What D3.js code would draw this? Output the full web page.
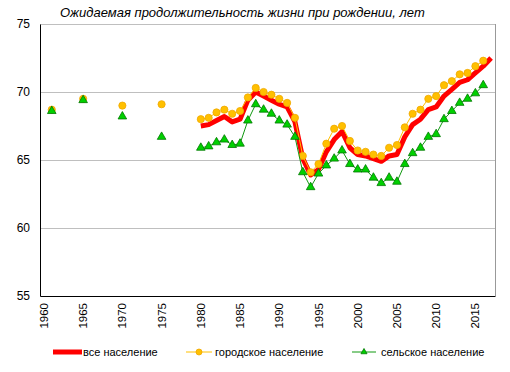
<!DOCTYPE html>
<html>
<head>
<meta charset="utf-8">
<script src="https://cdn.jsdelivr.net/npm/d3@7"></script>
<style>
  body { margin: 0; background: #fff; }
  svg { font-family: "Liberation Sans", Arial, sans-serif; }
</style>
</head>
<body>
<div id="chart"></div>
<script>
const title = "Ожидаемая продолжительность жизни при рождении, лет"
const years = d3.range(1960, 2018)
const yTicks = [55, 60, 65, 70, 75]
const xTicks = d3.range(1960, 2016, 5)
const seriesNames = ["все население", "городское население", "сельское население"]

// values by year, null where missing
const totalData = {
    1980: 67.5, 1981: 67.6, 1982: 67.9, 1983: 68.2, 1984: 67.8, 1985: 68.0, 1986: 69.4, 1987: 70.0,
    1988: 69.7, 1989: 69.4, 1990: 69.1, 1991: 68.9, 1992: 67.8, 1993: 65.1, 1994: 63.9, 1995: 64.3,
    1996: 65.6, 1997: 66.5, 1998: 67.1, 1999: 65.9, 2000: 65.4, 2001: 65.3, 2002: 65.1, 2003: 64.9,
    2004: 65.3, 2005: 65.4, 2006: 66.7, 2007: 67.6, 2008: 68.0, 2009: 68.7, 2010: 68.9, 2011: 69.7,
    2012: 70.2, 2013: 70.7, 2014: 70.9, 2015: 71.4, 2016: 71.9, 2017: 72.5
}
const urbanData = {
    1961: 68.7, 1965: 69.5, 1970: 69.0, 1975: 69.1,
    1980: 68.0, 1981: 68.1, 1982: 68.5, 1983: 68.7, 1984: 68.4, 1985: 68.6, 1986: 69.6, 1987: 70.3,
    1988: 70.0, 1989: 69.8, 1990: 69.5, 1991: 69.2, 1992: 68.1, 1993: 65.3, 1994: 64.1, 1995: 64.7,
    1996: 66.2, 1997: 67.3, 1998: 67.5, 1999: 66.4, 2000: 65.7, 2001: 65.6, 2002: 65.4, 2003: 65.3,
    2004: 65.9, 2005: 66.1, 2006: 67.4, 2007: 68.4, 2008: 68.7, 2009: 69.5, 2010: 69.7, 2011: 70.5,
    2012: 70.8, 2013: 71.3, 2014: 71.4, 2015: 71.9, 2016: 72.3
}
const ruralData = {
    1961: 68.6, 1965: 69.4, 1970: 68.2, 1975: 66.7,
    1980: 65.9, 1981: 66.0, 1982: 66.3, 1983: 66.5, 1984: 66.1, 1985: 66.2, 1986: 67.9, 1987: 69.1,
    1988: 68.7, 1989: 68.4, 1990: 67.9, 1991: 67.6, 1992: 66.7, 1993: 64.1, 1994: 63.0, 1995: 64.0,
    1996: 64.6, 1997: 65.1, 1998: 65.7, 1999: 64.7, 2000: 64.3, 2001: 64.3, 2002: 63.7, 2003: 63.3,
    2004: 63.7, 2005: 63.4, 2006: 64.7, 2007: 65.5, 2008: 65.9, 2009: 66.7, 2010: 66.9, 2011: 68.0,
    2012: 68.6, 2013: 69.2, 2014: 69.5, 2015: 69.9, 2016: 70.5
}

const width = 510, height = 372
const margin = {top: 24, right: 15, bottom: 76, left: 40}

const toRows = obj => years.map(y => ({year: y, value: obj[y] !== undefined ? obj[y] : null}))
const total = toRows(totalData)
const urban = toRows(urbanData)
const rural = toRows(ruralData)

const svg = d3.select('#chart')
    .append('svg')
    .attr('width', width)
    .attr('height', height)

const x = d3.scaleBand(years, [margin.left, width - margin.right])
const cx = d => x(d) + x.bandwidth() / 2
const y = d3.scaleLinear([55, 75], [height - margin.bottom, margin.top])

// gridlines
svg.append("g")
    .attr("stroke", "#bfbfbf")
    .selectAll("line")
    .data(yTicks.slice(1))
    .join("line")
    .attr("x1", margin.left)
    .attr("x2", width - margin.right)
    .attr("y1", d => y(d) + 0.5)
    .attr("y2", d => y(d) + 0.5)

// right frame
svg.append("line")
    .attr("stroke", "#999")
    .attr("x1", width - margin.right + 0.5)
    .attr("x2", width - margin.right + 0.5)
    .attr("y1", margin.top)
    .attr("y2", height - margin.bottom)

// axes
const yAxis = svg.append("g")
    .attr("transform", `translate(${margin.left},0)`)
    .call(d3.axisLeft(y).tickValues(yTicks).tickSize(0).tickPadding(10))
yAxis.select(".domain").attr("stroke", "#000")
yAxis.selectAll("text").attr("font-size", 12).attr("fill", "#000").attr("font-family", null)

const xAxis = svg.append("g")
    .attr("transform", `translate(0,${height - margin.bottom})`)
    .call(d3.axisBottom(x).tickValues(xTicks).tickSize(0).tickPadding(0))
xAxis.select(".domain").attr("stroke", "#000")
xAxis.selectAll("text")
    .attr("font-size", 11.5)
    .attr("fill", "#000")
    .attr("font-family", null)
    .attr("text-anchor", "end")
    .attr("transform", "rotate(-90)")
    .attr("x", -7)
    .attr("y", 0)
    .attr("dy", "0.35em")

// title
svg.append("text")
    .attr("x", 60)
    .attr("y", 17)
    .attr("font-size", 13)
    .attr("font-style", "italic")
    .text(title)

const line = d3.line()
    .defined(d => d.value != null)
    .x(d => cx(d.year))
    .y(d => y(d.value))

// все население
svg.append("path")
    .datum(total)
    .attr("fill", "none")
    .attr("stroke", "#ff0000")
    .attr("stroke-width", 5)
    .attr("stroke-linejoin", "round")
    .attr("d", line)

// городское население
svg.append("path")
    .datum(urban)
    .attr("fill", "none")
    .attr("stroke", "#ffc000")
    .attr("stroke-width", 1)
    .attr("d", line)

svg.append("g")
    .attr("fill", "#ffc000")
    .attr("stroke", "#f0a800")
    .attr("stroke-width", 0.8)
    .selectAll("circle")
    .data(urban.filter(d => d.value != null))
    .join("circle")
    .attr("cx", d => cx(d.year))
    .attr("cy", d => y(d.value))
    .attr("r", 3.6)

// сельское население
svg.append("path")
    .datum(rural)
    .attr("fill", "none")
    .attr("stroke", "#119911")
    .attr("stroke-width", 1)
    .attr("d", line)

const tri = d3.symbol(d3.symbolTriangle, 32)
svg.append("g")
    .attr("fill", "#00d000")
    .attr("stroke", "#007700")
    .attr("stroke-width", 0.8)
    .selectAll("path")
    .data(rural.filter(d => d.value != null))
    .join("path")
    .attr("transform", d => `translate(${cx(d.year)},${y(d.value)})`)
    .attr("d", tri)

// legend
const ly = 352
const legend = svg.append("g").attr("font-size", 11)

legend.append("line")
    .attr("x1", 53).attr("x2", 82).attr("y1", ly).attr("y2", ly)
    .attr("stroke", "#ff0000").attr("stroke-width", 5)
legend.append("text").attr("x", 83).attr("y", ly).attr("dy", "0.35em").text(seriesNames[0])

legend.append("line")
    .attr("x1", 186).attr("x2", 212).attr("y1", ly).attr("y2", ly)
    .attr("stroke", "#ffc000")
legend.append("circle")
    .attr("cx", 199).attr("cy", ly).attr("r", 3)
    .attr("fill", "#ffc000").attr("stroke", "#f0a800").attr("stroke-width", 0.8)
legend.append("text").attr("x", 215).attr("y", ly).attr("dy", "0.35em").text(seriesNames[1])

legend.append("line")
    .attr("x1", 352).attr("x2", 376).attr("y1", ly).attr("y2", ly)
    .attr("stroke", "#119911")
legend.append("path")
    .attr("transform", `translate(364,${ly})`)
    .attr("d", d3.symbol(d3.symbolTriangle, 16)())
    .attr("fill", "#00d000").attr("stroke", "#007700").attr("stroke-width", 0.8)
legend.append("text").attr("x", 381).attr("y", ly).attr("dy", "0.35em").text(seriesNames[2])
</script>
</body>
</html>
